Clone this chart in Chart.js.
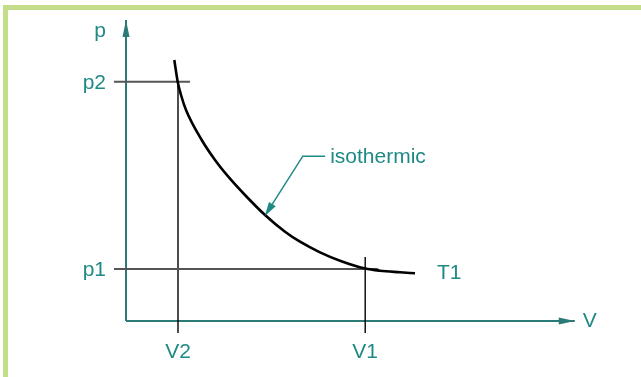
<!DOCTYPE html>
<html>
<head>
<meta charset="utf-8">
<script src="https://cdn.jsdelivr.net/npm/chart.js@4/dist/chart.umd.min.js"></script>
<style>
    html, body { margin: 0; padding: 0; background: #fff; overflow: hidden; }
    #wrap { position: relative; width: 641px; height: 377px; }
    #frame {
        position: absolute; left: 3px; top: 5px; width: 700px; height: 367px;
        border-top: 5px solid #c4dd88; border-left: 5px solid #c4dd88; border-bottom: 5px solid #c4dd88;
    }
    #pv { position: absolute; left: 0; top: 0; }
</style>
</head>
<body>
<div id="wrap">
    <div id="frame"></div>
    <canvas id="pv" width="641" height="377"></canvas>
</div>
<script>
// p-V diagram, isothermal curve (units: V2 = 1, p1 = 1)

const curveV = [0.929, 0.994, 1.058, 1.154, 1.456, 1.712, 1.967, 2.288, 2.673, 3.058, 3.346, 3.731, 4.115, 4.60, 4.885, 5.269, 5.558];
const curveP = [5.019, 4.602, 4.346, 4.058, 3.481, 3.096, 2.775, 2.423, 2.038, 1.717, 1.525, 1.321, 1.160, 1.01, 0.967, 0.937, 0.917];

const pTicks = [1, 4.6];
const pLabels = ["p1", "p2"];
const vTicks = [1, 4.6];
const vLabels = ["V2", "V1"];

const axisNames = ["V", "p"];
const curveName = "T1";
const calloutText = "isothermic";

const axisEnd = [8.63, 5.79];      // V tip, p tip
const overhang = -0.23;            // guide lines poke past the axes
const pLineEnd = [4.85, 1.23];     // p1, p2 guide reach in V
const vLineEnd = [4.6, 1.23];      // V2, V1 guide reach in p

const leaderV = [3.83, 3.40, 2.67];
const leaderP = [3.17, 3.17, 2.02];

const teal = "#1f8a85";
const axisTeal = "#2a7a77";
const font = "21px 'Liberation Sans', Arial, sans-serif";

function seg(x1, y1, x2, y2) {
    return [{ x: x1, y: y1 }, { x: x2, y: y2 }];
}

var datasets = [
    {
        data: curveV.map((v, i) => ({ x: v, y: curveP[i] })),
        borderColor: "#000",
        borderWidth: 2.6,
        cubicInterpolationMode: "monotone",
    },
    { data: seg(overhang, pTicks[0], pLineEnd[0], pTicks[0]), borderColor: "#555", borderWidth: 2 },
    { data: seg(overhang, pTicks[1], pLineEnd[1], pTicks[1]), borderColor: "#555", borderWidth: 2 },
    { data: seg(vTicks[0], overhang, vTicks[0], vLineEnd[0]), borderColor: "#000", borderWidth: 1.4 },
    { data: seg(vTicks[1], overhang, vTicks[1], vLineEnd[1]), borderColor: "#000", borderWidth: 1.4 },
    { data: seg(0, 0, 0, axisEnd[1]), borderColor: axisTeal, borderWidth: 2, arrow: { len: 17, half: 3.5 } },
    { data: seg(0, 0, axisEnd[0], 0), borderColor: axisTeal, borderWidth: 2, arrow: { len: 16, half: 3.5 } },
    {
        data: leaderV.map((v, i) => ({ x: v, y: leaderP[i] })),
        borderColor: teal,
        borderWidth: 1.5,
        arrow: { len: 14, half: 4 },
    },
];

datasets.forEach((d) => {
    d.showLine = true;
    d.pointRadius = 0;
    d.fill = false;
    d.clip = false;
});

// arrowheads at the last point of flagged datasets
const arrowPlugin = {
    id: "arrows",
    afterDatasetsDraw(chart) {
        const ctx = chart.ctx;
        chart.data.datasets.forEach((d, i) => {
            if (!d.arrow) return;
            const pts = chart.getDatasetMeta(i).data;
            const a = pts[pts.length - 2], b = pts[pts.length - 1];
            const ang = Math.atan2(b.y - a.y, b.x - a.x);
            ctx.save();
            ctx.translate(b.x, b.y);
            ctx.rotate(ang);
            ctx.fillStyle = d.borderColor;
            ctx.beginPath();
            ctx.moveTo(0, 0);
            ctx.lineTo(-d.arrow.len, -d.arrow.half);
            ctx.lineTo(-d.arrow.len, d.arrow.half);
            ctx.closePath();
            ctx.fill();
            ctx.restore();
        });
    },
};

// tick labels and names, placed through the scales
const labelPlugin = {
    id: "labels",
    afterDraw(chart) {
        const ctx = chart.ctx;
        const xs = chart.scales.x, ys = chart.scales.y;
        const x0 = xs.getPixelForValue(0), y0 = ys.getPixelForValue(0);
        ctx.save();
        ctx.font = font;
        ctx.fillStyle = teal;

        ctx.textAlign = "right";
        ctx.textBaseline = "middle";
        pTicks.forEach((p, i) => ctx.fillText(pLabels[i], x0 - 20, ys.getPixelForValue(p) + 1));

        ctx.textAlign = "center";
        ctx.textBaseline = "alphabetic";
        vTicks.forEach((v, i) => ctx.fillText(vLabels[i], xs.getPixelForValue(v), y0 + 37));

        ctx.fillText(axisNames[1], x0 - 26, ys.getPixelForValue(axisEnd[1]) + 17);
        ctx.textAlign = "left";
        ctx.fillText(axisNames[0], xs.getPixelForValue(axisEnd[0]) + 8, y0 + 6);

        const n = curveV.length - 1;
        ctx.fillText(curveName, xs.getPixelForValue(curveV[n]) + 22, ys.getPixelForValue(curveP[n]) + 6);
        ctx.fillText(calloutText, xs.getPixelForValue(leaderV[0]) + 5, ys.getPixelForValue(leaderP[0]) + 7);
        ctx.restore();
    },
};

var ctx = document.getElementById("pv").getContext("2d");

var chart = new Chart(ctx, {
    type: "scatter",
    data: { datasets: datasets },
    options: {
        responsive: false,
        animation: false,
        devicePixelRatio: 1,
        layout: { padding: 0 },
        plugins: { legend: { display: false }, tooltip: { enabled: false } },
        scales: {
            x: { type: "linear", min: -126 / 52, max: 515 / 52, display: false },
            y: { type: "linear", min: -56 / 52, max: 321 / 52, display: false },
        },
    },
    plugins: [arrowPlugin, labelPlugin],
});
</script>
</body>
</html>
